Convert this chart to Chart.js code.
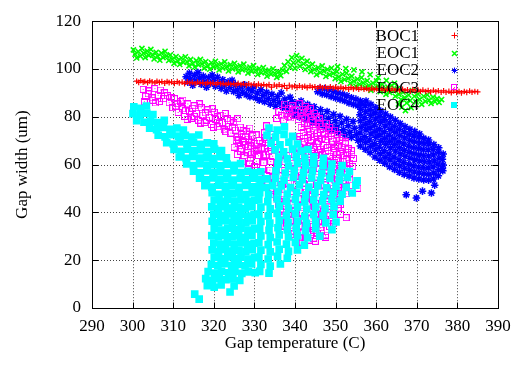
<!DOCTYPE html>
<html><head><meta charset="utf-8">
<script src="https://cdn.jsdelivr.net/npm/chart.js@4.4.0/dist/chart.umd.min.js"></script>
<style>html,body{margin:0;padding:0;background:#fff;}#wrap{width:527px;height:365px;}</style>
</head><body><div id="wrap"><canvas id="c" width="527" height="365"></canvas></div>
<script>
const seriesNames = ['BOC1','EOC1','EOC2','EOC3','EOC4'];
const xTickValues = [290,300,310,320,330,340,350,360,370,380,390];
const yTickValues = [0,20,40,60,80,100,120];
const xAxisTitle = 'Gap temperature (C)';
const yAxisTitle = 'Gap width (um)';

const boc1 = [[301,94.9],[301.5,94.4],[302,95.1],[302.6,94.5],[303,94.8],[303.7,94.3],[304.2,95.0],[304.8,94.6],[305.5,94.2],[306,94.9],[306.6,94.4],[307.2,94.7],[307.9,94.1],[308.5,94.8],[309,94.3],[309.6,94.6],[310.3,94.0],[311,94.7],[311.5,94.2],[312.2,94.5],[312.8,93.9],[313.5,94.6],[314.1,94.1],[314.7,94.4],[315.4,93.8],[316,94.5],[316.6,94.0],[317.3,94.3],[318,93.7],[318.5,94.4],[319.2,93.9],[319.8,94.2],[320.5,93.6],[321,94.3],[321.7,93.8],[322.3,94.0],[323,93.5],[323.6,94.1],[324.2,93.6],[324.9,93.9],[325.5,93.3],[326,94.0],[326.7,93.5],[327.3,93.8],[328,93.2],[328.6,93.8],[329.2,93.3],[329.9,93.6],[330.5,93.0],[331,93.7],[331.7,93.1],[332.3,93.5],[333,92.9],[333.6,93.5],[334.2,92.4],[334.9,93.3],[335.5,92.8],[336.1,93.4],[336.8,92.7],[337.4,93.1],[338,91.9],[338.6,93.2],[339.3,92.5],[339.9,92.9],[340.5,92.3],[341.1,93.0],[341.8,92.4],[342.4,92.8],[343,92.2],[343.7,92.9],[344.3,92.3],[344.9,92.6],[345.6,92.0],[346.2,92.7],[346.8,92.1],[347.5,92.5],[348.1,91.9],[348.7,92.6],[349.4,92.0],[350,92.4],[350.6,91.8],[351.3,92.4],[351.9,91.8],[352.5,92.2],[353.2,91.6],[353.8,92.3],[354.4,91.7],[355.1,92.1],[355.7,91.5],[356.3,92.1],[357,91.5],[357.6,91.9],[358.2,91.3],[358.9,92.0],[359.5,91.4],[360.1,91.8],[360.8,91.2],[361.4,91.8],[362,91.2],[362.7,91.6],[363.3,91.0],[363.9,91.7],[364.6,91.1],[365.2,91.5],[365.8,90.9],[366.5,91.5],[367.1,90.9],[367.7,91.3],[368.4,90.7],[369,91.4],[369.6,90.8],[370.3,91.2],[370.9,90.6],[371.5,91.2],[372.2,90.6],[372.8,91.0],[373.4,90.4],[374.1,91.1],[374.7,90.5],[375.3,90.9],[376,90.3],[376.6,90.9],[377.2,90.3],[377.9,90.7],[378.5,90.1],[379.1,90.8],[379.8,90.2],[380.4,90.6],[381,90.0],[381.7,90.6],[382.3,90.2],[383,90.8],[383.6,90.3],[384.3,90.6],[385,90.4]];

const eoc1 = [[300.2,108.0],[300.6,106.2],[301.0,104.6],[301.4,107.3],[301.9,105.4],[302.3,108.6],[302.7,106.6],[303.1,104.8],[303.6,107.5],[304.0,105.7],[304.5,108.2],[304.9,106.0],[305.3,104.2],[305.8,107.0],[306.2,105.3],[306.7,103.7],[307.1,106.6],[307.5,104.8],[308.0,107.4],[308.4,105.5],[308.9,103.6],[309.3,105.9],[309.8,104.1],[310.2,102.4],[310.7,105.2],[311.1,103.4],[311.6,101.9],[312.0,104.6],[312.5,102.8],[313.0,105.1],[313.4,103.0],[313.9,101.3],[314.3,104.0],[314.8,102.3],[315.3,100.8],[315.7,103.5],[316.2,101.7],[316.7,104.0],[317.1,102.2],[317.6,100.4],[318.0,103.1],[318.5,101.3],[319.0,99.9],[319.4,102.6],[319.9,100.8],[320.4,103.2],[320.8,101.4],[321.3,99.6],[321.8,102.2],[322.2,100.4],[322.7,103.0],[323.2,101.0],[323.6,99.2],[324.1,101.8],[324.6,100.0],[325.1,102.4],[325.5,100.6],[326.0,98.8],[326.5,101.4],[327.0,99.6],[327.4,102.0],[327.9,100.1],[328.4,98.3],[328.9,100.8],[329.3,99.0],[329.8,101.4],[330.3,99.5],[330.8,97.7],[331.2,100.2],[331.7,98.4],[332.2,100.6],[332.7,98.8],[333.1,97.0],[333.6,99.5],[334.1,97.8],[334.6,100.1],[335.0,98.2],[335.5,96.5],[336.0,98.9],[336.5,97.2],[337.0,99.5],[337.4,101.5],[337.9,99.0],[338.3,103.0],[338.8,100.8],[339.2,104.8],[339.6,102.6],[340.0,100.3],[340.4,105.6],[340.8,103.4],[341.2,101.2],[341.7,104.5],[342.1,102.2],[342.5,99.8],[343.0,103.3],[343.4,101.0],[343.9,98.9],[344.3,102.0],[344.8,99.8],[345.3,97.6],[345.7,100.6],[346.2,98.5],[346.7,101.3],[347.1,99.1],[347.6,96.9],[348.0,99.8],[348.5,97.6],[349.0,100.4],[349.4,98.2],[349.9,96.0],[350.3,98.9],[350.5,101.0],[350.8,96.7],[351.3,94.8],[351.7,97.8],[352.2,95.6],[352.5,100.2],[352.7,98.3],[353.1,96.1],[353.6,94.0],[354.0,97.0],[354.5,99.6],[354.5,94.9],[355.0,92.8],[355.4,95.8],[355.9,93.6],[356.4,96.4],[356.5,98.8],[356.8,94.2],[357.3,92.2],[357.8,95.1],[358.2,93.0],[358.5,97.6],[358.7,91.1],[359.2,94.1],[359.6,92.0],[360.1,95.0],[360.5,96.4],[360.5,92.8],[361.0,90.5],[361.5,93.6],[361.9,91.4],[362.4,89.4],[362.5,95.2],[362.9,92.4],[363.3,90.2],[363.8,93.1],[364.3,90.9],[364.5,94.0],[364.7,88.6],[365.2,91.7],[365.5,85.3],[365.6,89.4],[366.1,87.2],[366.3,84.0],[366.6,90.3],[367.0,88.0],[367.2,82.6],[367.5,85.8],[368.0,89.1],[368.4,86.8],[368.6,83.8],[368.9,91.0],[369.4,88.6],[369.8,86.2],[370.3,89.5],[370.7,87.3],[371.2,85.2],[371.7,88.6],[372.1,86.5],[372.6,89.2],[373.0,87.0],[373.5,85.6],[374.0,88.2],[374.5,86.3],[375.0,87.6],[375.5,86.0],[376.1,87.2]];

const eoc2 = [[313.2,96.8],[313.6,94.5],[314.0,98.2],[314.3,95.7],[314.8,93.2],[315.2,97.4],[315.6,95.0],[316.1,98.5],[316.5,96.2],[316.9,93.6],[317.4,97.0],[317.8,94.6],[318.2,92.4],[318.7,96.4],[319.1,94.0],[319.6,97.5],[320.0,95.3],[320.4,92.8],[320.9,96.6],[321.3,94.2],[321.8,91.9],[322.2,95.5],[322.7,93.2],[323.1,90.8],[323.5,94.6],[324.0,92.3],[324.5,95.3],[324.9,90.6],[325.3,93.4],[325.8,91.2],[326.2,88.9],[326.7,92.6],[327.1,90.3],[327.6,93.4],[328.0,89.2],[328.5,91.6],[328.9,88.4],[329.4,90.8],[329.8,92.6],[330.3,88.0],[330.7,90.0],[331.2,86.9],[331.6,91.3],[332.1,88.9],[332.5,86.3],[333.0,90.2],[333.4,87.6],[333.9,85.3],[334.3,89.4],[334.8,86.8],[335.2,84.4],[335.7,88.5],[336.1,86.0],[336.6,90.0],[337.0,84.0],[337.5,87.4],[337.9,85.1],[338.4,82.9],[338.8,88.2],
[339.3,86.3],[339.6,83.0],[339.9,80.8],[340.3,85.6],[340.7,82.3],[341.1,79.9],[341.5,86.6],[341.9,84.1],[342.3,81.2],[342.7,78.9],[343.1,85.2],[343.5,82.6],[343.9,79.8],[344.3,77.6],[344.7,84.2],[345.1,81.5],[345.5,78.6],[345.9,76.4],[346.3,83.0],[346.7,80.3],[347.1,77.8],[347.5,75.4],[347.9,82.2],[348.3,79.4],[348.7,76.6],[349.1,74.5],[349.5,81.0],[349.9,78.3],[350.3,75.7],[350.7,73.3],[351.1,80.2],[351.5,77.4],[351.9,74.6],[352.3,72.4],[352.7,79.0],[353.1,76.3],[353.5,73.5],[353.9,71.4],[354.3,78.0],[354.7,75.2],[355.1,72.6],[355.5,70.2],
[345.6,90.5],[346.2,92.0],[346.7,89.6],[347.3,91.8],[347.8,89.2],[348.4,91.4],[348.9,88.5],[349.5,90.6],[350.0,87.9],[350.6,90.0],[351.1,87.3],[351.7,89.4],[352.2,86.7],[352.8,88.8],[353.3,85.8],[353.9,88.0],[354.4,85.2],[355.0,87.4],[355.5,84.6],[356.1,86.6],
[356.1,67.8],[356.2,70.4],[356.0,73.2],[356.3,75.6],[356.1,78.3],[356.0,80.9],[356.2,83.2],[356.4,85.8],
[357.3,66.4],[357.4,69.2],[357.2,71.7],[357.5,74.5],[357.3,76.9],[357.2,79.6],[357.4,82.1],[357.3,84.6],[357.5,86.6],
[358.5,65.0],[358.6,67.6],[358.4,70.3],[358.7,72.8],[358.5,75.4],[358.4,78.0],[358.6,80.6],[358.5,83.0],[358.7,85.2],
[359.7,63.2],[359.8,66.1],[359.6,68.7],[359.9,71.4],[359.7,73.9],[359.6,76.6],[359.8,79.1],[359.7,81.7],[359.9,83.8],
[360.9,61.8],[361.0,64.5],[360.8,67.3],[361.1,69.8],[360.9,72.5],[360.8,75.0],[361.0,77.7],[360.9,80.2],[361.1,82.4],
[362.1,60.6],[362.2,63.1],[362.0,65.8],[362.3,68.5],[362.1,71.0],[362.0,73.7],[362.2,76.2],[362.1,78.8],[362.3,81.2],
[363.3,59.1],[363.4,61.9],[363.2,64.4],[363.5,67.0],[363.3,69.7],[363.2,72.3],[363.4,74.8],[363.3,77.4],[363.5,79.9],
[364.5,58.0],[364.6,60.5],[364.4,63.2],[364.7,65.7],[364.5,68.4],[364.4,70.9],[364.6,73.5],[364.5,76.0],[364.7,78.6],
[365.7,56.8],[365.8,59.4],[365.6,62.0],[365.9,64.5],[365.7,67.1],[365.6,69.6],[365.8,72.2],[365.7,74.8],[365.9,77.2],
[366.9,55.9],[367.0,58.4],[366.8,60.9],[367.1,63.5],[366.9,66.0],[366.8,68.6],[367.0,71.1],[366.9,73.7],[367.1,75.9],
[368.1,55.2],[368.2,57.6],[368.0,60.1],[368.3,62.7],[368.1,65.2],[368.0,67.7],[368.2,70.2],[368.1,72.6],[368.3,74.8],
[369.3,54.4],[369.4,56.9],[369.2,59.5],[369.5,62.0],[369.3,64.6],[369.2,67.1],[369.4,69.6],[369.3,72.0],[369.5,73.9],
[370.5,54.0],[370.6,56.5],[370.4,59.0],[370.7,61.6],[370.5,64.1],[370.4,66.7],[370.6,69.1],[370.5,71.5],[370.7,72.8],
[371.7,53.6],[371.8,56.2],[371.6,58.7],[371.9,61.3],[371.7,63.8],[371.6,66.3],[371.8,68.8],[371.7,71.0],
[372.9,53.5],[373.0,56.0],[372.8,58.6],[373.1,61.1],[372.9,63.6],[372.8,66.2],[373.0,68.6],[372.9,70.3],
[374.1,54.0],[374.2,56.5],[374.0,59.0],[374.3,61.5],[374.1,64.0],[374.0,66.4],[374.2,68.4],
[375.3,55.3],[375.4,57.8],[375.2,60.2],[375.5,62.7],[375.3,65.2],[375.4,67.0],
[376.4,57.4],[376.5,59.8],[376.3,62.2],[376.5,64.4],
[367.4,47.4],[369.9,46.0],[371.4,48.9],[373.6,48.1],[374.4,51.4],[376.3,58.4]];

const eoc3 = [[302.6,91.5],[304.0,90.8],[305.5,91.8],[306.9,91.2],[303.2,88.6],[304.8,87.9],[306.3,89.0],[307.6,87.6],[302.9,86.3],[305.6,85.8],
[303.8,89.6],[305.0,86.9],[306.6,86.4],[307.9,90.0],[309.6,88.0],[309.9,83.8],[311.0,85.5],[312.4,87.0],[313.0,82.5],[313.4,78.9],[314.8,83.6],[315.2,80.2],[316.4,85.4],[316.8,77.4],[317.9,81.6],[318.2,78.6],[319.6,83.4],[319.9,75.6],[320.9,80.0],[321.4,77.2],[322.8,81.4],[323.0,73.8],[324.0,78.4],[324.6,75.4],[325.9,79.2],[326.1,70.4],[327.2,74.2],[327.8,71.9],[328.9,75.3],[329.3,69.2],[330.4,72.4],[330.9,66.9],[331.9,68.7],[332.6,71.4],[333.5,65.4],
[308.6,88.8],[309.0,85.9],[310.3,87.6],[310.6,84.5],[311.2,81.8],[311.9,86.4],[312.3,83.3],[312.8,80.2],[313.6,85.4],[314.0,82.4],[314.5,79.4],[315.2,84.6],[315.7,81.5],[316.2,78.6],[316.9,83.8],[317.3,80.7],[317.8,77.6],[318.5,82.9],[318.9,79.8],[319.4,76.8],[320.1,81.9],[320.5,78.9],[321.0,75.8],[321.7,80.6],[322.1,77.6],[322.6,74.5],[323.3,79.2],[323.7,76.1],[324.2,73.2],[324.9,77.5],[325.3,74.4],[325.8,71.5],[326.5,75.7],[326.9,72.6],[327.4,69.6],[328.0,73.8],[328.5,70.7],[329.0,67.8],[329.6,72.0],[330.1,68.8],[330.6,65.9],[331.2,70.1],[331.7,67.0],[332.2,64.0],
[337.5,85.3],[339.3,84.6],[341.0,85.5],[342.6,84.3],
[336.0,82.2],[337.8,81.5],[339.5,82.6],[341.3,81.8],[343.0,82.3],[344.8,81.4],
[335.5,79.3],[337.2,78.6],[339.0,79.5],[340.8,78.8],[342.5,79.2],[344.3,78.5],[346.0,79.1],
[333.0,76.2],[341.5,75.6],[343.2,76.4],[345.0,75.8],[346.8,76.1],[348.5,75.5],
[332.5,73.3],[334.3,72.6],[342.0,73.4],[343.8,72.7],[345.5,73.2],[347.3,72.5],[349.0,73.1],[350.5,72.6],
[325.5,70.2],[327.2,69.6],[333.0,70.4],[334.8,69.7],[340.5,70.3],[342.3,69.5],[344.0,70.2],[345.8,69.6],[347.5,70.4],[349.3,69.8],[351.0,70.1],[352.5,69.5],
[325.0,67.3],[326.8,66.6],[328.5,67.4],[332.5,66.7],[334.2,67.2],[336.0,66.5],[341.0,67.3],[342.8,66.6],[344.5,67.2],[346.3,66.5],[348.0,67.1],[349.8,66.7],[351.5,67.3],[353.2,66.6],
[325.8,64.2],[327.5,63.6],[329.3,64.4],[331.0,63.7],[332.8,64.1],[334.5,63.5],[336.3,64.3],[338.0,63.8],[339.8,64.2],[341.5,63.6],[343.3,64.4],[345.0,63.7],[346.8,64.1],[348.5,63.5],[350.3,64.2],[352.0,63.7],[354.0,64.3],
[327.0,61.2],[328.8,60.6],[330.5,61.4],[332.3,60.7],[334.0,61.3],[335.8,60.5],[337.5,61.2],[339.3,60.6],[341.0,61.4],[342.8,60.7],[344.5,61.1],[346.3,60.5],[348.0,61.3],[349.8,60.8],[351.8,61.2],[353.5,60.6],
[328.5,58.3],[330.3,57.6],[332.0,58.4],[333.8,57.7],[335.5,58.2],[337.3,57.5],[339.0,58.3],[340.8,57.8],[342.5,58.1],[344.3,57.5],[346.0,58.4],[347.8,57.7],[349.5,58.2],[351.3,57.6],[353.0,58.3],
[329.5,55.2],[331.3,54.6],[333.0,55.4],[334.8,54.7],[336.5,55.3],[338.3,54.5],[340.0,55.2],[341.8,54.6],[343.5,55.4],[345.3,54.8],[347.0,55.1],[348.8,54.5],[350.5,55.3],[352.3,54.7],
[331.5,52.3],[333.3,51.6],[335.0,52.4],[336.8,51.7],[338.5,52.2],[340.3,51.5],[342.0,52.3],[343.8,51.8],[345.5,52.1],[347.3,51.5],[349.0,52.4],[350.8,51.7],[352.5,52.2],
[334.0,49.2],[335.8,48.6],[337.5,49.4],[339.3,48.7],[341.0,49.3],[342.8,48.5],[344.5,49.2],[346.3,48.6],[348.0,49.4],[349.8,48.8],[351.5,49.1],[354.0,48.8],
[335.5,46.3],[337.3,45.6],[339.0,46.4],[340.8,45.7],[342.5,46.2],[344.3,45.5],[346.0,46.3],[347.8,45.8],[349.5,46.1],[351.3,45.5],
[336.0,43.2],[337.8,42.6],[339.5,43.4],[341.3,42.7],[343.0,43.3],[344.8,42.5],[346.5,43.2],[348.3,42.6],[351.2,43.3],
[336.5,40.3],[338.3,39.6],[340.0,40.4],[341.8,39.7],[343.5,40.2],[345.3,39.5],[347.0,40.3],[349.5,39.8],
[337.0,37.2],[338.8,36.6],[340.5,37.4],[342.3,36.7],[344.0,37.3],[345.8,36.5],[347.5,37.2],[352.6,37.8],
[337.5,34.3],[339.3,33.6],[341.0,34.4],[342.8,33.7],[344.5,34.2],[346.3,33.5],[348.5,34.1],
[338.5,31.2],[340.3,30.6],[342.0,31.4],[343.8,30.7],[345.5,31.3],[347.5,30.5],
[340.0,28.3],[341.8,27.6],[343.5,28.4],[345.0,27.9],
[355.5,50.1],[353.9,65.8],[347.6,29.6],
[338.4,83.6],[340.2,83.2],[342.0,83.0],[343.8,83.4],[336.7,80.4],[338.3,80.0],[340.0,80.6],[341.8,80.1],[343.7,80.2],[345.3,80.0],[342.3,77.4],[344.2,77.6],[346.0,77.0],[347.7,77.3],[343.0,74.6],[344.7,74.2],[346.4,74.8],[348.2,74.1],[349.8,74.4],[341.2,71.8],[343.0,71.2],[344.8,71.7],[346.6,71.0],[348.3,71.6],[350.1,71.1],[351.8,71.5],[341.9,68.6],[343.6,68.2],[345.4,68.8],[347.1,68.0],[348.9,68.6],[350.6,68.1],[352.4,68.7],[326.0,68.8],[327.8,68.3],[326.6,65.6],[328.4,65.0],[330.1,65.4],[342.2,65.3],[344.0,65.6],[345.8,65.0],[347.6,65.6],[349.4,65.1],[351.1,65.4],[352.9,65.1],[346.9,62.2],[348.7,61.9],[350.6,62.5],[352.6,62.0],[354.4,62.6],[347.0,59.3],[348.8,59.6],[350.5,59.2],[352.3,59.8],[354.2,59.2],[348.0,56.5],[349.8,56.2],[351.5,56.8],[353.4,56.1],[349.9,53.4],[351.8,53.1],[353.5,53.6],[350.6,50.4],[352.6,50.7],[348.6,47.4],[350.5,47.2],[352.6,47.8],[348.0,44.4],[350.0,44.6],[346.4,41.4],[348.4,41.2],[350.6,41.8],[346.6,38.4],[348.6,38.6],[351.2,39.2],[345.2,35.4],[347.4,35.6],[349.6,35.2],[344.6,32.4],[346.6,32.6],[341.0,29.4],[342.9,29.6],[344.6,29.2],[346.4,29.8],[339.2,32.2],[338.0,35.5],[337.2,38.4],[337.0,41.4],[336.2,44.4],[334.8,47.4],[333.0,50.4],[331.2,56.0],[330.0,59.0],[329.0,62.4]];

const eoc4 = [[300.3,84.2],[302.0,83.6],[303.4,84.5],
[300.1,81.3],[301.8,80.7],[303.5,81.5],[305.0,80.9],
[301.0,78.4],[302.8,77.7],[304.4,78.2],[306.1,77.6],[307.8,78.5],
[304.2,75.2],[305.9,74.6],[307.6,75.5],[309.2,74.8],[310.9,75.3],[312.5,74.5],
[306.3,72.3],[308.0,71.6],[309.7,72.5],[311.3,71.9],[313.0,72.2],[314.6,71.5],[316.3,72.4],
[308.4,69.2],[310.0,68.6],[311.7,69.5],[313.4,68.8],[315.0,69.3],[316.7,68.5],[318.4,69.1],[320.0,68.7],
[310.2,66.3],[311.9,65.6],[313.5,66.4],[315.2,65.8],[316.9,66.2],[318.6,65.5],[320.2,66.5],[321.9,65.9],
[311.5,63.2],[313.2,62.6],[314.8,63.4],[316.5,62.7],[318.2,63.1],[319.8,62.5],[321.5,63.3],[323.1,62.8],
[313.3,60.3],[315.0,59.6],[316.6,60.4],[318.3,59.8],[320.0,60.1],[321.6,59.5],[323.3,60.2],[325.0,59.7],[326.6,60.4],
[315.0,57.2],[316.7,56.6],[318.4,57.4],[320.0,56.8],[321.7,57.1],[323.4,56.5],[325.0,57.3],[326.7,56.7],[328.4,57.2],[330.0,56.6],[331.6,57.0],
[316.5,54.3],[318.2,53.6],[319.8,54.4],[321.5,53.8],[323.2,54.1],[324.8,53.5],[326.5,54.2],[328.2,53.7],[329.8,54.3],[331.5,53.6],[333.1,54.0],
[317.8,51.2],[319.5,50.6],[321.2,51.4],[322.9,50.8],[324.5,51.1],[326.2,50.5],[327.8,51.3],[329.5,50.7],[331.2,51.0],[332.8,50.4],[334.5,51.2],
[319.6,48.3],[321.3,47.6],[322.9,48.4],[324.6,47.8],[326.2,48.1],[327.9,47.5],[329.5,48.2],
[320.1,45.2],[321.7,44.6],[323.4,45.4],[325.1,44.7],[326.7,45.3],[328.4,44.5],[330.0,45.1],
[319.5,42.3],[321.2,41.7],[322.8,42.5],[324.5,41.8],[326.1,42.2],[327.8,41.6],[329.4,42.4],
[320.0,39.2],[321.7,38.6],[323.3,39.4],[325.0,38.7],[326.6,39.3],[328.3,38.5],[329.9,39.1],
[319.6,36.3],[321.2,35.7],[322.9,36.5],[324.6,35.8],[326.2,36.2],[327.9,35.6],[329.5,36.4],
[320.1,33.2],[321.8,32.6],[323.4,33.4],[325.1,32.7],[326.7,33.3],[328.4,32.5],[330.0,33.1],
[319.5,30.3],[321.2,29.7],[322.8,30.5],[324.5,29.8],[326.1,30.2],[327.8,29.6],[329.4,30.4],
[320.0,27.2],[321.7,26.6],[323.3,27.4],[325.0,26.7],[326.6,27.3],[328.3,26.5],[329.9,27.1],
[319.6,24.3],[321.2,23.7],[322.9,24.5],[324.6,23.8],[326.2,24.2],[327.9,23.6],[329.5,24.4],
[320.1,21.2],[321.8,20.6],[323.4,21.4],[325.1,20.7],[326.7,21.3],[328.4,20.5],[330.0,21.1],
[319.4,18.3],[321.0,17.7],[322.7,18.5],[324.4,17.8],[326.0,18.2],[327.7,17.6],[329.3,18.4],
[318.6,15.2],[320.2,14.6],[321.9,15.4],[323.6,14.7],[325.2,15.3],[326.9,14.5],[328.5,15.1],[330.2,14.8],
[318.0,12.3],[319.7,11.6],[321.4,12.4],[323.0,11.8],[324.7,12.2],[326.4,11.5],
[318.4,9.3],[320.1,8.7],[321.8,9.6],[325.0,9.2],
[315.3,5.8],[316.4,3.7],[324.0,6.7],
[333.6,75.3],[335.6,74.4],[337.4,75.8],
[333.1,72.2],[335.2,71.5],[337.3,72.6],[339.4,71.8],
[334.1,69.0],[336.3,68.3],[338.5,69.4],[340.6,68.6],
[335.1,66.2],[337.2,65.4],[339.4,66.5],[341.5,65.7],[343.2,66.3],
[336.0,63.1],[338.1,62.4],[340.3,63.5],[342.4,62.7],[344.6,63.3],[347.0,62.6],
[335.8,60.2],[338.4,59.4],[340.6,60.6],[342.6,59.7],[344.6,60.4],[346.9,59.5],[349.1,60.2],[351.6,59.6],
[335.3,57.4],[337.6,56.5],[339.8,57.6],[342.1,56.7],[344.3,57.3],[346.6,56.4],[348.9,57.2],[351.1,56.5],[353.4,57.1],
[335.2,54.3],[337.3,53.5],[339.6,54.6],[341.8,53.7],[344.1,54.4],[346.3,53.4],[348.6,54.2],[350.9,53.5],[352.9,54.6],[355.3,53.2],
[336.6,51.1],[338.9,50.4],[341.1,51.5],[343.4,50.6],[345.6,51.2],[347.8,50.3],[350.1,51.0],[352.6,50.5],[355.0,51.4],
[331.3,48.2],[333.5,47.5],[335.8,48.6],[338.1,47.7],[340.4,48.3],[342.6,47.4],[344.9,48.2],[347.1,47.5],[349.4,48.4],[351.6,47.6],[354.1,48.1],
[331.1,45.3],[333.3,44.5],[335.6,45.6],[337.9,44.7],[340.1,45.4],[342.4,44.4],[344.6,45.2],[346.8,44.6],[349.1,45.5],[351.1,44.7],
[331.6,42.2],[333.9,41.5],[336.1,42.6],[338.4,41.7],[340.6,42.3],[342.9,41.4],[345.1,42.2],[347.4,41.6],[349.6,42.4],
[331.1,39.3],[333.4,38.5],[335.6,39.6],[337.9,38.7],[340.1,39.4],[342.4,38.4],[344.6,39.2],[346.9,38.6],[349.4,39.1],
[331.6,36.2],[333.8,35.5],[336.1,36.6],[338.3,35.7],[340.6,36.3],[342.8,35.4],[345.1,36.2],[347.6,35.6],[350.1,36.0],
[331.3,33.3],[333.6,32.5],[335.8,33.6],[338.1,32.7],[340.3,33.4],[342.6,32.4],[345.1,33.2],[349.1,32.8],
[331.6,30.2],[333.9,29.5],[336.1,30.6],[338.4,29.7],[340.6,30.3],[343.1,29.4],[346.1,30.1],
[331.1,27.3],[333.4,26.5],[335.6,27.6],[337.9,26.7],[340.1,27.4],[342.3,26.3],
[331.6,24.2],[333.9,23.5],[336.1,24.6],[338.4,23.7],[340.6,24.3],
[331.1,21.3],[333.4,20.5],[335.7,21.6],[338.1,20.8],
[331.6,18.2],[333.9,17.5],[336.4,18.4],
[331.3,15.3],[333.6,14.6]];

const seriesColors = ['#ff0000','#00ff00','#0000ff','#ff00ff','#00ffff'];
const FONT = "'Liberation Serif', 'Times New Roman', serif";

function toXY(arr){ return arr.map(p => ({x:p[0], y:p[1]})); }

function makeOpenSquare(color, n){
  const c = document.createElement('canvas'); c.width = n; c.height = n;
  const g = c.getContext('2d'); g.strokeStyle = color; g.lineWidth = 1; g.strokeRect(0.5,0.5,n-1,n-1);
  g.fillStyle = color; const m = Math.floor(n/2); g.fillRect(m, m, 1, 1);
  return c;
}
function makeFilledSquare(color, n){
  const c = document.createElement('canvas'); c.width = n; c.height = n;
  const g = c.getContext('2d'); g.fillStyle = color; g.fillRect(0,0,n,n);
  return c;
}
const openSq = makeOpenSquare(seriesColors[3], 7);
const openSqKey = makeOpenSquare(seriesColors[3], 6);
const fillSqKey = makeFilledSquare(seriesColors[4], 6);

function drawMarker(ctx, i, x, y){
  ctx.save();
  ctx.strokeStyle = seriesColors[i]; ctx.fillStyle = seriesColors[i]; ctx.lineWidth = 1;
  x = Math.round(x) + 0.5; y = Math.round(y) + 0.5;
  const r = 3;
  ctx.beginPath();
  if (i === 0) { ctx.moveTo(x-r,y); ctx.lineTo(x+r,y); ctx.moveTo(x,y-r); ctx.lineTo(x,y+r); ctx.stroke(); }
  else if (i === 1) { ctx.lineWidth = 1.5; ctx.moveTo(x-2.5,y-2.5); ctx.lineTo(x+2.5,y+2.5); ctx.moveTo(x-2.5,y+2.5); ctx.lineTo(x+2.5,y-2.5); ctx.stroke(); }
  else if (i === 2) { ctx.moveTo(x-r,y); ctx.lineTo(x+r,y); ctx.moveTo(x,y-r); ctx.lineTo(x,y+r); ctx.moveTo(x-2.2,y-2.2); ctx.lineTo(x+2.2,y+2.2); ctx.moveTo(x-2.2,y+2.2); ctx.lineTo(x+2.2,y-2.2); ctx.stroke(); }
  else if (i === 3) { ctx.drawImage(openSqKey, Math.round(x-3.5), Math.round(y-3.5)); }
  else { ctx.drawImage(fillSqKey, Math.round(x-3.5), Math.round(y-3.5)); }
  ctx.restore();
}

const gnuplotFrame = {
  id: 'gnuplotFrame',
  beforeDatasetsDraw(chart){
    const {ctx, chartArea:a, scales:{x, y}} = chart;
    ctx.save();
    ctx.strokeStyle = '#444'; ctx.lineWidth = 1; ctx.setLineDash([1,2]);
    xTickValues.forEach(v => { if (v === x.min || v === x.max) return; const px = Math.round(x.getPixelForValue(v)) + 0.5; ctx.beginPath(); ctx.moveTo(px, a.top); ctx.lineTo(px, a.bottom); ctx.stroke(); });
    yTickValues.forEach(v => { if (v === y.min || v === y.max) return; const py = Math.round(y.getPixelForValue(v)) + 0.5; ctx.beginPath(); ctx.moveTo(a.left, py); ctx.lineTo(a.right, py); ctx.stroke(); });
    ctx.restore();
  },
  afterDatasetsDraw(chart){
    const {ctx, chartArea:a, scales:{x, y}} = chart;
    ctx.save();
    ctx.strokeStyle = '#000'; ctx.lineWidth = 1; ctx.setLineDash([]);
    const L = Math.round(a.left)+0.5, R = Math.round(a.right)+0.5, T = Math.round(a.top)+0.5, B = Math.round(a.bottom)+0.5;
    ctx.beginPath();
    xTickValues.forEach(v => { const px = Math.round(x.getPixelForValue(v)) + 0.5; ctx.moveTo(px, B); ctx.lineTo(px, B-6); ctx.moveTo(px, T); ctx.lineTo(px, T+6); });
    yTickValues.forEach(v => { const py = Math.round(y.getPixelForValue(v)) + 0.5; ctx.moveTo(L, py); ctx.lineTo(L+6, py); ctx.moveTo(R, py); ctx.lineTo(R-6, py); });
    ctx.stroke();
    ctx.strokeRect(L, T, R-L, B-T);
    ctx.font = '17px ' + FONT; ctx.fillStyle = '#000'; ctx.textAlign = 'right'; ctx.textBaseline = 'middle';
    chart.data.datasets.forEach((ds, i) => {
      const ly = a.top + 14 + i * 17.4;
      ctx.fillText(ds.label, a.right - 79, ly + 1);
      drawMarker(ctx, i, a.right - 44, ly);
    });
    ctx.restore();
  }
};

const seriesData = [boc1, eoc1, eoc2, eoc3, eoc4];
const seriesStyle = [
  {pointStyle:'cross', pointRadius:2.8, borderWidth:1.2, order:3},
  {pointStyle:'crossRot', pointRadius:3.6, borderWidth:1.6, order:5},
  {pointStyle:'star', pointRadius:3.8, borderWidth:1.5, order:4},
  {pointStyle:openSq, pointRadius:3.5, borderWidth:1, order:2},
  {pointStyle:'rect', pointRadius:5.4, borderWidth:0, order:1}
];

new Chart(document.getElementById('c'), {
  type: 'scatter',
  data: {
    datasets: seriesNames.map((name, i) => ({
      label: name,
      data: toXY(seriesData[i]),
      pointStyle: seriesStyle[i].pointStyle,
      pointRadius: seriesStyle[i].pointRadius,
      pointBorderWidth: seriesStyle[i].borderWidth,
      pointBorderColor: seriesColors[i],
      pointBackgroundColor: seriesColors[i],
      borderColor: seriesColors[i],
      backgroundColor: seriesColors[i],
      order: seriesStyle[i].order,
      showLine: false
    }))
  },
  options: {
    responsive: false,
    animation: false,
    events: [],
    devicePixelRatio: 1,
    layout: {padding: {top: 14, right: 29, left: 0, bottom: 0}},
    plugins: {legend: {display: false}, tooltip: {enabled: false}},
    scales: {
      x: {
        type: 'linear', min: xTickValues[0], max: xTickValues[xTickValues.length-1],
        afterBuildTicks: s => { s.ticks = xTickValues.map(v => ({value: v})); },
        afterFit: s => { s.height = 57; },
        grid: {display: false, drawTicks: false},
        border: {display: false},
        ticks: {color: '#000', font: {family: FONT, size: 17}, padding: 8, maxRotation: 0, autoSkip: false},
        title: {display: true, text: xAxisTitle, color: '#000', font: {family: FONT, size: 17}, padding: {top: 0, bottom: 11}}
      },
      y: {
        type: 'linear', min: yTickValues[0], max: yTickValues[yTickValues.length-1],
        afterBuildTicks: s => { s.ticks = yTickValues.map(v => ({value: v})); },
        afterFit: s => { s.width = 92; },
        grid: {display: false, drawTicks: false},
        border: {display: false},
        ticks: {color: '#000', font: {family: FONT, size: 17}, padding: 11, autoSkip: false},
        title: {display: true, text: yAxisTitle, color: '#000', font: {family: FONT, size: 17}, padding: {top: 12, bottom: 0}}
      }
    }
  },
  plugins: [gnuplotFrame]
});
</script></body></html>
